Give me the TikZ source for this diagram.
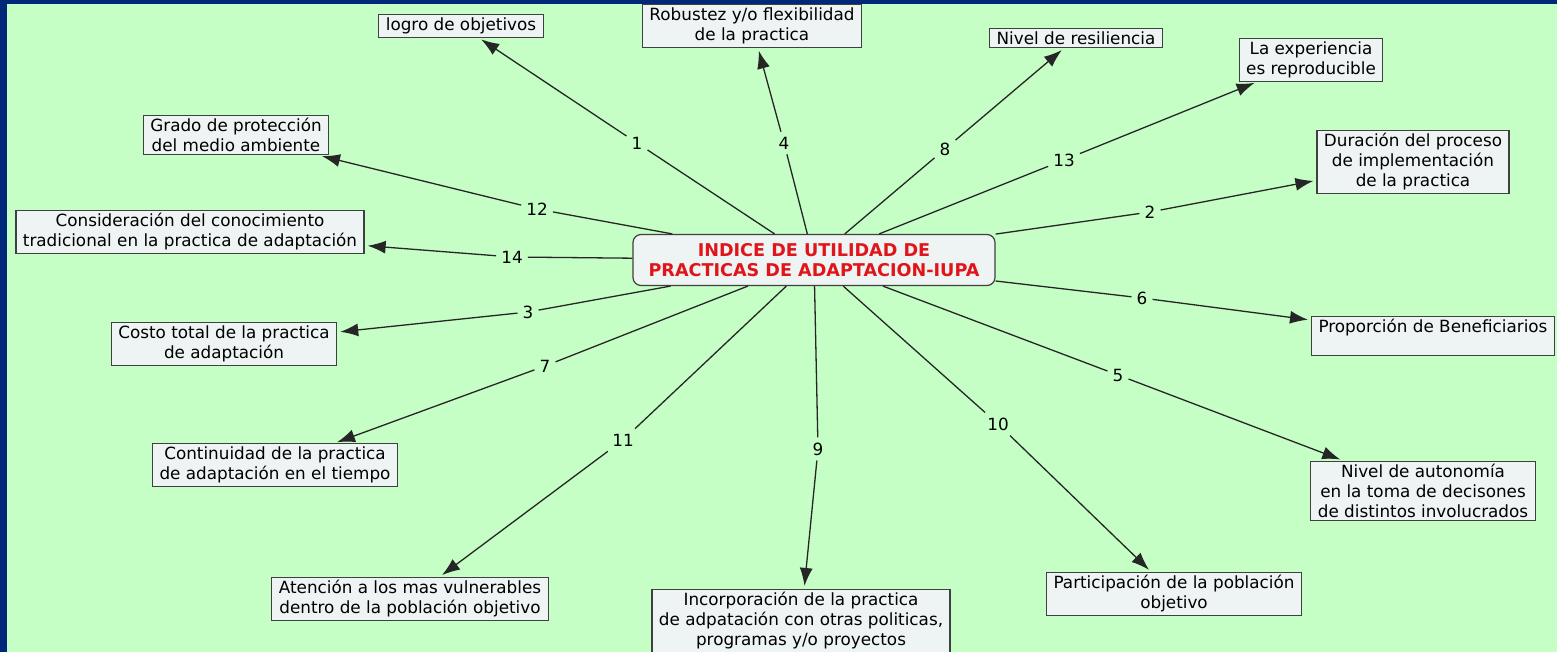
\documentclass[tikz,border=0pt]{standalone}
\usepackage{fontspec}
\setmainfont{DejaVu Sans}
\usetikzlibrary{arrows.meta}

\definecolor{navyframe}{RGB}{0,40,120}
\definecolor{mapgreen}{RGB}{198,255,198}
\definecolor{boxfill}{RGB}{238,243,243}
\definecolor{titlered}{RGB}{225,20,25}

\tikzset{
  concept/.style={draw=black!75, fill=boxfill, line width=1.2pt, align=center,
    font=\fontsize{16.8}{20}\selectfont, inner xsep=7pt, inner ysep=3pt},
  mainconcept/.style={concept, rounded corners=8pt, text=titlered,
    font=\bfseries\fontsize{17.6}{20}\selectfont, minimum width=362pt, minimum height=51pt},
  line/.style={draw=black!85, line width=1.3pt},
  link/.style={line, -{Latex[length=18pt,width=13pt]}, shorten >=3pt},
  linklabel/.style={font=\fontsize{16.8}{20}\selectfont, inner sep=5pt}
}

\begin{document}
\begin{tikzpicture}[x=1pt, y=-1pt]
    % frame and background
    \fill[navyframe] (0,0) rectangle (1557,652);
    \fill[mapgreen] (7,4) rectangle (1557,652);
    \useasboundingbox (0,0) rectangle (1557,652);

    % central concept
    \node[mainconcept] (iupa) at (814,260) {INDICE DE UTILIDAD DE\\PRACTICAS DE ADAPTACION-IUPA};

    % criteria
    \node[concept] (logro) at (461,26) {logro de objetivos};
    \node[concept] (robustez) at (752,26) {Robustez y/o flexibilidad\\de la practica};
    \node[concept] (resiliencia) at (1076,38) {Nivel de resiliencia};
    \node[concept] (experiencia) at (1311,60) {La experiencia\\es reproducible};
    \node[concept] (duracion) at (1413,162) {Duración del proceso\\de implementación\\de la practica};
    \node[concept] (proporcion) at (1433,336) {Proporción de Beneficiarios\\ \mbox{}};
    \node[concept] (autonomia) at (1423,491) {Nivel de autonomía\\en la toma de decisones\\de distintos involucrados};
    \node[concept] (participacion) at (1174,594) {Participación de la población\\objetivo};
    \node[concept] (incorporacion) at (801,621) {Incorporación de la practica\\de adpatación con otras politicas,\\programas y/o proyectos};
    \node[concept] (atencion) at (410,599) {Atención a los mas vulnerables\\dentro de la población objetivo};
    \node[concept] (continuidad) at (275,465) {Continuidad de la practica\\de adaptación en el tiempo};
    \node[concept] (costo) at (224,344) {Costo total de la practica\\de adaptación};
    \node[concept] (conocimiento) at (190,232) {Consideración del conocimiento\\tradicional en la practica de adaptación};
    \node[concept] (proteccion) at (236,135) {Grado de protección\\del medio ambiente};

    % linking numbers
    \node[linklabel] (n1) at (637,143) {1};
    \node[linklabel] (n4) at (784,143) {4};
    \node[linklabel] (n8) at (945,149) {8};
    \node[linklabel] (n13) at (1064,160) {13};
    \node[linklabel] (n2) at (1150,212) {2};
    \node[linklabel] (n6) at (1142,298) {6};
    \node[linklabel] (n5) at (1118,375) {5};
    \node[linklabel] (n10) at (998,424) {10};
    \node[linklabel] (n9) at (818,449) {9};
    \node[linklabel] (n11) at (623,440) {11};
    \node[linklabel] (n7) at (545,366) {7};
    \node[linklabel] (n3) at (528,312) {3};
    \node[linklabel] (n14) at (512,257) {14};
    \node[linklabel] (n12) at (537,209) {12};

    % links
    \foreach \n/\t in {1/logro, 4/robustez, 8/resiliencia, 13/experiencia, 2/duracion,
        6/proporcion, 5/autonomia, 10/participacion, 9/incorporacion, 11/atencion,
        7/continuidad, 3/costo, 14/conocimiento, 12/proteccion} {
      \draw[line] (iupa) -- (n\n);
      \draw[link] (n\n) -- (\t);
    }
\end{tikzpicture}
\end{document}
